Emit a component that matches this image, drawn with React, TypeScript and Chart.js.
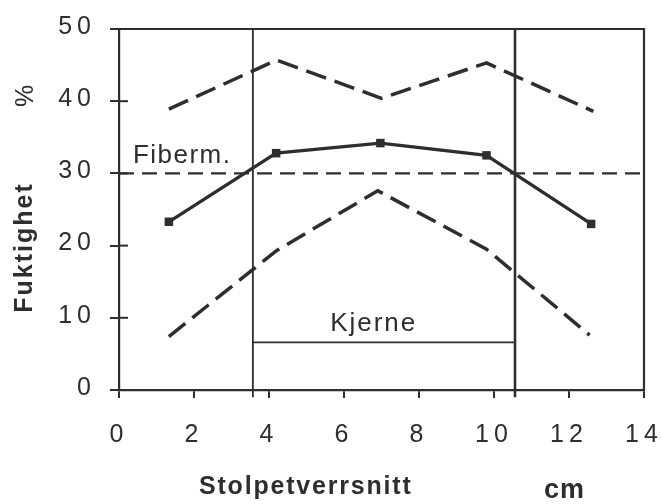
import React, { useEffect, useRef } from "react";
import { Chart, registerables } from "chart.js";

Chart.register(...registerables);

// ---- data ----
const MEAN_X = [1.33, 4.19, 6.97, 9.8, 12.59];
const MEAN_Y = [23.3, 32.8, 34.2, 32.5, 23.0];
const UPPER_X = [1.33, 4.2, 7.0, 9.8, 12.65];
const UPPER_Y = [38.9, 45.7, 40.4, 45.3, 38.6];
const LOWER_X = [1.33, 4.2, 6.9, 9.8, 12.55];
const LOWER_Y = [7.4, 19.3, 27.6, 19.5, 7.6];
const FIBER_LEVEL = 30;
const FIBER_SPAN = [0, 13.92];
const KJERNE_BOUNDS = [3.57, 10.56];
const KJERNE_LEVEL = 6.6;
const X_TICKS = [0, 2, 4, 6, 8, 10, 12, 14];
const Y_TICKS = [0, 10, 20, 30, 40, 50];
const FIBER_LABEL = "Fiberm.";
const KJERNE_LABEL = "Kjerne";
const Y_TITLE = "Fuktighet";
const Y_UNIT = "%";
const X_TITLE = "Stolpetverrsnitt";
const X_UNIT = "cm";

const INK = "#2e2e2e";
const FONT = '"Liberation Sans", Arial, Helvetica, sans-serif';

const pts = (xs: number[], ys: number[]) => xs.map((x, i) => ({ x, y: ys[i] }));

const annotPlugin = {
  id: "annot",
  beforeDraw(chart: any) {
    chart.ctx.letterSpacing = "5px";
  },
  afterDraw(chart: any) {
    const { ctx, chartArea, scales } = chart;
    const xs = scales.x;
    const ys = scales.y;
    ctx.save();
    ctx.letterSpacing = "0px";
    ctx.strokeStyle = INK;
    ctx.lineWidth = 2;
    // inner half of y tick marks
    Y_TICKS.forEach((v) => {
      const py = ys.getPixelForValue(v);
      ctx.beginPath();
      ctx.moveTo(chartArea.left, py);
      ctx.lineTo(chartArea.left + 9, py);
      ctx.stroke();
    });
    // frame top and right
    ctx.lineWidth = 2.2;
    ctx.beginPath();
    ctx.moveTo(chartArea.left, chartArea.top);
    ctx.lineTo(chartArea.right, chartArea.top);
    ctx.lineTo(chartArea.right, chartArea.bottom);
    ctx.stroke();

    ctx.fillStyle = INK;
    ctx.textBaseline = "alphabetic";
    ctx.textAlign = "left";

    // annotations
    ctx.font = `26px ${FONT}`;
    ctx.letterSpacing = "1.5px";
    ctx.fillText(FIBER_LABEL, xs.getPixelForValue(0.37), ys.getPixelForValue(31.4));
    ctx.letterSpacing = "2px";
    ctx.fillText(KJERNE_LABEL, xs.getPixelForValue(5.63), ys.getPixelForValue(8.2));

    // x title
    ctx.font = `bold 25px ${FONT}`;
    ctx.letterSpacing = "1.8px";
    ctx.fillText(X_TITLE, 199, 494);
    ctx.font = `bold 27px ${FONT}`;
    ctx.letterSpacing = "1px";
    ctx.fillText(X_UNIT, 544, 498);

    // y title (rotated)
    ctx.save();
    ctx.translate(32, 247.5);
    ctx.rotate(-Math.PI / 2);
    ctx.textAlign = "center";
    ctx.font = `bold 25px ${FONT}`;
    ctx.letterSpacing = "2px";
    ctx.fillText(Y_TITLE, 0, 0);
    ctx.restore();

    ctx.save();
    ctx.translate(33, 96);
    ctx.rotate(-Math.PI / 2);
    ctx.textAlign = "center";
    ctx.font = `25px ${FONT}`;
    ctx.letterSpacing = "0px";
    ctx.fillText(Y_UNIT, 0, 0);
    ctx.restore();

    ctx.restore();
  },
};

export default function App() {
  const ref = useRef<HTMLCanvasElement | null>(null);

  useEffect(() => {
    if (!ref.current) return;
    const line = (data: any[], extra: any) => ({
      type: "line",
      data,
      showLine: true,
      borderColor: INK,
      backgroundColor: INK,
      pointRadius: 0,
      fill: false,
      tension: 0,
      ...extra,
    });
    const chart = new Chart(ref.current, {
      type: "scatter",
      data: {
        datasets: [
          line(
            [
              { x: FIBER_SPAN[0], y: FIBER_LEVEL },
              { x: FIBER_SPAN[1], y: FIBER_LEVEL },
            ],
            { borderWidth: 2.3, borderDash: [15, 8] }
          ),
          line(
            [
              { x: KJERNE_BOUNDS[0], y: -1 },
              { x: KJERNE_BOUNDS[0], y: 50 },
            ],
            { borderWidth: 1.8, clip: false }
          ),
          line(
            [
              { x: KJERNE_BOUNDS[1], y: -1 },
              { x: KJERNE_BOUNDS[1], y: 50 },
            ],
            { borderWidth: 2.6, clip: false }
          ),
          line(
            [
              { x: KJERNE_BOUNDS[0], y: KJERNE_LEVEL },
              { x: KJERNE_BOUNDS[1], y: KJERNE_LEVEL },
            ],
            { borderWidth: 1.8 }
          ),
          line(pts(UPPER_X, UPPER_Y), { borderWidth: 3.5, borderDash: [21, 9] }),
          line(pts(LOWER_X, LOWER_Y), { borderWidth: 3.5, borderDash: [21, 9] }),
          line(pts(MEAN_X, MEAN_Y), {
            borderWidth: 3.3,
            pointRadius: 6,
            pointStyle: "rect",
            pointBorderWidth: 0,
          }),
        ],
      },
      options: {
        animation: false,
        responsive: false,
        events: [],
        layout: { padding: { left: 0, top: 29, right: 18, bottom: 0 } },
        plugins: {
          legend: { display: false },
          tooltip: { enabled: false },
          title: { display: false },
        },
        scales: {
          x: {
            type: "linear",
            min: 0,
            max: 14,
            afterFit: (s: any) => {
              s.height = 114;
              s.paddingLeft = 0;
              s.paddingRight = 0;
            },
            afterBuildTicks: (s: any) => {
              s.ticks = X_TICKS.map((v) => ({ value: v }));
            },
            ticks: {
              color: INK,
              font: { family: FONT, size: 25 },
              padding: 22,
              maxRotation: 0,
              autoSkip: false,
            },
            grid: {
              drawOnChartArea: false,
              drawTicks: true,
              tickLength: 8,
              color: INK,
              lineWidth: 2,
            },
            border: { display: true, color: INK, width: 2.2 },
          },
          y: {
            type: "linear",
            min: 0,
            max: 50,
            afterFit: (s: any) => {
              s.width = 119;
              s.paddingTop = 0;
              s.paddingBottom = 0;
            },
            afterBuildTicks: (s: any) => {
              s.ticks = Y_TICKS.map((v) => ({ value: v }));
            },
            ticks: {
              color: INK,
              font: { family: FONT, size: 25 },
              padding: 14,
              labelOffset: -2,
              autoSkip: false,
            },
            grid: {
              drawOnChartArea: false,
              drawTicks: true,
              tickLength: 9,
              color: INK,
              lineWidth: 2,
            },
            border: { display: true, color: INK, width: 2.2 },
          },
        },
      },
      plugins: [annotPlugin],
    } as any);
    return () => chart.destroy();
  }, []);

  return (
    <div style={{ position: "fixed", left: 0, top: 0, width: 662, height: 504, background: "#fff" }}>
      <canvas ref={ref} width={662} height={504} style={{ display: "block" }} />
    </div>
  );
}
